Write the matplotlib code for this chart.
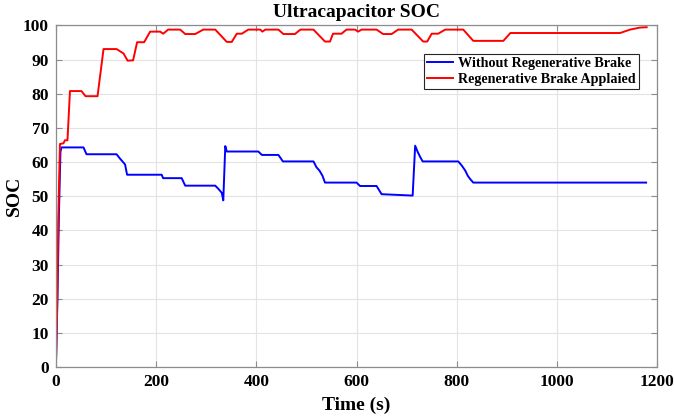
import matplotlib
matplotlib.use("Agg")
import matplotlib.pyplot as plt

# SOC curves (time in s, SOC in %)
red_t = [0, 2, 4.6, 8, 15, 18, 23, 28, 51, 59, 83, 95, 121, 135, 143,
         154, 162, 176, 188, 208, 214, 224, 248, 258, 278, 294, 318, 341, 351, 361,
         371, 384, 408, 412, 418, 444, 454, 477, 488, 514, 537, 547, 553, 570, 580,
         597, 603, 610, 640, 653, 670, 683, 710, 733, 741, 750, 763, 777, 813, 833,
         893, 907, 1126, 1146, 1166, 1179]
red_soc = [0.5, 14, 43, 65.3, 65.5, 66.4, 66.4, 80.8, 80.8, 79.3, 79.3, 93.1, 93.1, 91.8, 89.7,
           89.8, 95.1, 95.1, 98.2, 98.2, 97.6, 98.8, 98.8, 97.5, 97.5, 98.8, 98.8, 95.2, 95.2, 97.6,
           97.6, 98.8, 98.8, 98.2, 98.8, 98.8, 97.5, 97.5, 98.8, 98.8, 95.3, 95.3, 97.6, 97.6, 98.8,
           98.8, 98.2, 98.8, 98.8, 97.5, 97.5, 98.8, 98.8, 95.3, 95.3, 97.6, 97.6, 98.8, 98.8, 95.5,
           95.5, 97.8, 97.8, 98.8, 99.4, 99.5]

blue_t = [0, 3, 6, 9, 11, 55, 61, 121, 128, 134, 138, 142, 211, 214, 251,
          258, 318, 324, 331, 334, 338, 341, 404, 411, 444, 453, 514, 520, 526, 532,
          537, 600, 607, 640, 650, 712, 717, 722, 727, 732, 803, 810, 817, 822, 827,
          833, 1178]
blue_soc = [0.5, 20, 45, 63, 64.3, 64.3, 62.3, 62.3, 61, 60, 59.3, 56.3, 56.3, 55.3, 55.3,
            53.1, 53.1, 52.2, 51, 48.8, 64.7, 63.1, 63.1, 62.1, 62.1, 60.2, 60.2, 58.5, 57.5, 56,
            54.0, 54.0, 53.0, 53.0, 50.6, 50.2, 64.8, 63, 61.5, 60.2, 60.2, 59, 57.5, 56, 55,
            54.0, 54.0]

labels = ["Without Regenerative Brake", "Regenerative Brake Applaied"]

plt.rcParams["font.family"] = ["Liberation Serif", "DejaVu Serif"]
plt.rcParams["font.weight"] = "bold"

fig = plt.figure(figsize=(6.74, 4.18), dpi=100)
ax = fig.add_axes([0.083, 0.122, 0.892, 0.817])

ax.plot(blue_t, blue_soc, color=(0, 0, 1), lw=1.4, label=labels[0])
ax.plot(red_t, red_soc, color=(1, 0, 0), lw=1.4, label=labels[1])

ax.set_xlim(0, 1200)
ax.set_ylim(0, 100)
ax.set_xticks(range(0, 1201, 200))
ax.set_yticks(range(0, 101, 10))
ax.grid(True, color="#e3e3e3", lw=0.8)
ax.set_axisbelow(True)
ax.tick_params(direction="in", top=True, right=True, labelsize=12.5, length=4,
               colors="#8c8c8c", labelcolor="black", pad=5)
for s in ax.spines.values():
    s.set_color("#8c8c8c")
    s.set_linewidth(0.9)
for lab in ax.get_xticklabels() + ax.get_yticklabels():
    lab.set_fontweight("bold")

ax.set_title("Ultracapacitor SOC", fontsize=14, fontweight="bold", pad=6)
ax.set_xlabel("Time (s)", fontsize=14, fontweight="bold", labelpad=5)
ax.set_ylabel("SOC", fontsize=14, fontweight="bold")
ax.yaxis.set_label_coords(-0.055, 0.5)

leg = ax.legend(loc="upper right", bbox_to_anchor=(0.97, 0.917), borderaxespad=0,
                prop={"weight": "bold", "size": 10.2}, fancybox=False, framealpha=1,
                handlelength=1.8, handletextpad=0.4, borderpad=0.22, labelspacing=0.2)
leg.get_frame().set_edgecolor("#262626")
leg.get_frame().set_linewidth(0.8)

fig.savefig("out.png", dpi=100)
